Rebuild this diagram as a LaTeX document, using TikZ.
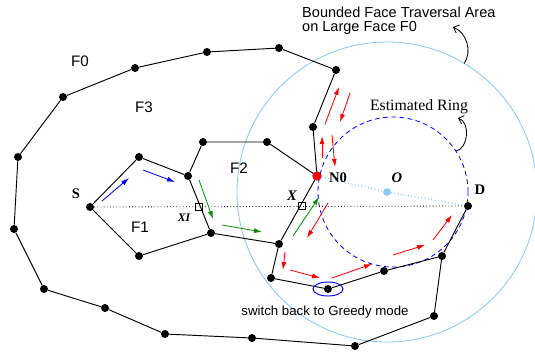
\documentclass[tikz,border=0pt]{standalone}
\usepackage{fontspec}
\setmainfont{Liberation Serif}
\setsansfont{Liberation Sans}
\usetikzlibrary{positioning, arrows.meta}
\definecolor{skyring}{RGB}{135,200,245}
\definecolor{walkgreen}{RGB}{10,140,10}

\begin{document}
\begin{tikzpicture}[
    x=0.03cm, y=-0.03cm,
    vtx/.style={circle, fill=black, inner sep=0pt, minimum size=2.4mm},
    xmark/.style={draw, inner sep=0pt, minimum size=2.2mm, line width=0.5pt},
    facelabel/.style={font=\sffamily\fontsize{13}{15}\selectfont},
    ptlabel/.style={font=\bfseries\fontsize{12.5}{14}\selectfont},
    link/.style={line width=0.8pt},
    walk/.style={line width=0.7pt, -{Latex[length=2.4mm, width=1.5mm]}},
    note/.style={line width=0.7pt, -{Straight Barb[length=1.4mm, width=2.6mm]}}
]
\useasboundingbox (0,0) rectangle (535,353);

% traversal area and estimated ring
\coordinate (areac) at (387,192);
\coordinate (ringc) at (393,192);
\draw[skyring, line width=0.7pt] (areac) circle [radius=4.5cm];
\draw[blue, dashed, dash pattern=on 4pt off 3pt, line width=0.7pt] (ringc) circle [radius=2.25cm];

% vertices
\node[vtx] (o1) at (18,157) {};
\node[vtx] (o2) at (63,97) {};
\node[vtx] (o3) at (135,68) {};
\node[vtx] (o4) at (207,52) {};
\node[vtx] (o5) at (279,48) {};
\node[vtx] (o6) at (336,70) {};
\node[vtx] (o7) at (313,127) {};
\node[vtx] (o8) at (14,229) {};
\node[vtx] (o9) at (44,289) {};
\node[vtx] (o10) at (105,308) {};
\node[vtx] (o11) at (165,334) {};
\node[vtx] (o12) at (252,338) {};
\node[vtx] (o13) at (355,346) {};
\node[vtx] (o14) at (434,316) {};
\node[vtx] (o15) at (442,256) {};
\node[vtx] (S) at (90,207) {};
\node[vtx] (a1) at (139,157) {};
\node[vtx] (a2) at (188,176) {};
\node[vtx] (a3) at (211,233) {};
\node[vtx] (a4) at (139,256) {};
\node[vtx] (b1) at (203,142) {};
\node[vtx] (b2) at (267,142) {};
\node[vtx] (c1) at (279,244) {};
\node[vtx] (c2) at (271,278) {};
\node[vtx] (c3) at (328,289) {};
\node[vtx] (c4) at (384,271) {};
\node[vtx] (D) at (468,206) {};
\node[circle, fill=red, draw=red!70!black, inner sep=0pt, minimum size=2.6mm] (N0) at (317,176) {};
\node[circle, fill=skyring, inner sep=0pt, minimum size=2.3mm] (O) at (387,192) {};

% guide lines
\draw[dotted, line width=0.7pt] (S) -- (D);
\draw[skyring, dotted, line width=0.9pt] (N0) -- (O) -- (D);

% edges
\draw[link] (o1) -- (o2) -- (o3) -- (o4) -- (o5) -- (o6) -- (o7) -- (N0);
\draw[link] (o1) -- (o8) -- (o9) -- (o10) -- (o11) -- (o12) -- (o13) -- (o14) -- (o15) -- (D);
\draw[link] (S) -- (a1) -- (a2) -- (a3) -- (a4) -- (S);
\draw[link] (a2) -- (b1) -- (b2) -- (N0) -- (c1) -- (a3);
\draw[link] (c1) -- (c2) -- (c3) -- (c4) -- (o15);

% crossing points
\node[xmark] (X1) at (199,207) {};
\node[xmark] (X) at (302,206) {};
\draw[blue, line width=0.8pt] (c3) ellipse [x radius=0.45cm, y radius=0.21cm];

% face routing walk
\foreach \p/\q in {{(102,201)}/{(129,178)}, {(143,170)}/{(175,182)}}
    \draw[walk, blue] \p -- \q;
\foreach \p/\q in {{(199,180)}/{(213,219)}, {(222,225)}/{(262,232)}, {(293,236)}/{(319,197)}}
    \draw[walk, walkgreen] \p -- \q;
\foreach \p/\q in {{(325,124)}/{(339,87)}, {(350,93)}/{(340,122)}, {(322,158)}/{(322,136)},
    {(332,135)}/{(335,167)}, {(328,203)}/{(307,238)}, {(285,252)}/{(283,270)},
    {(290,270)}/{(320,278)}, {(332,278)}/{(372,264)}, {(393,255)}/{(425,245)},
    {(433,240)}/{(452,215)}}
    \draw[walk, red] \p -- \q;

% labels
\node[facelabel] (F0) at (80,61) {F0};
\node[facelabel] (F3) at (144,107) {F3};
\node[facelabel] (F2) at (239,168) {F2};
\node[facelabel] (F1) at (140,227) {F1};
\node[ptlabel] (lS) at (76,194) {S};
\node[font=\bfseries\itshape\fontsize{10}{12}\selectfont] (lX1) at (184,218) {XI};
\node[ptlabel, font=\bfseries\itshape\fontsize{12.5}{14}\selectfont] (lX) at (292,196) {X};
\node[ptlabel] (lN0) at (338,178) {N0};
\node[ptlabel, font=\bfseries\itshape\fontsize{12.5}{14}\selectfont] (lO) at (397,178) {O};
\node[ptlabel] (lD) at (480,190) {D};
\node[font=\sffamily\fontsize{12.4}{12}\selectfont, align=left, anchor=north west, inner sep=0pt] (area)
    at (302,7) {Bounded Face Traversal Area\\on Large Face F0};
\node[font=\fontsize{13.5}{15}\selectfont] (ring) at (419,107) {Estimated Ring};
\node[font=\sffamily\fontsize{11.3}{13}\selectfont] (greedy) at (325,312) {switch back to Greedy mode};

% callouts
\path (areac) ++(59:4.5cm) coordinate (rimA);
\path (ringc) ++(33:2.25cm) coordinate (rimB);
\coordinate (tipA) at (453,27);
\coordinate (tipB) at (458,118);
\draw[note] (rimA) to[bend right=50] (tipA);
\draw[note] (rimB) to[bend right=75] (tipB);
\end{tikzpicture}
\end{document}
